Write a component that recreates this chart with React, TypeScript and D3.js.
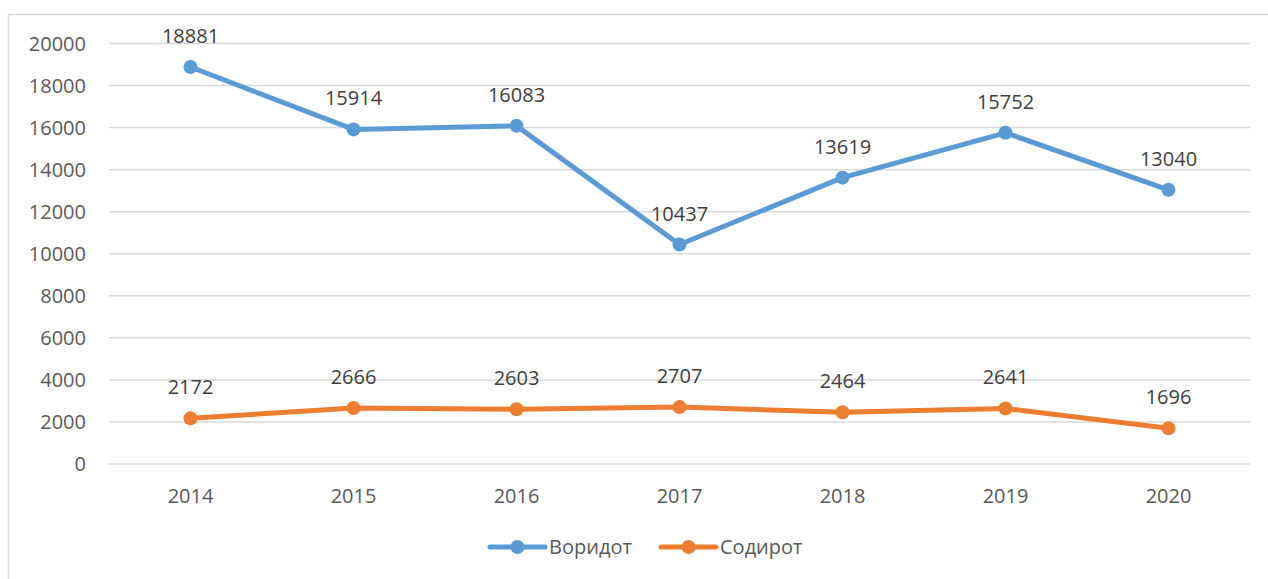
import React from "react";
import * as d3 from "d3";

const years = ["2014", "2015", "2016", "2017", "2018", "2019", "2020"];
const voridot = [18881, 15914, 16083, 10437, 13619, 15752, 13040];
const sodirot = [2172, 2666, 2603, 2707, 2464, 2641, 1696];
const yTicks = [0, 2000, 4000, 6000, 8000, 10000, 12000, 14000, 16000, 18000, 20000];
const seriesNames = ["Воридот", "Содирот"];
const colors = ["#5B9BD5", "#ED7D31"];

export default function App() {
  const W = 1268, H = 579;
  const x = d3.scaleBand<string>().domain(years).range([109, 1250]);
  const y = d3.scaleLinear().domain([0, 20000]).range([464, 43.5]);
  const font = "'Open Sans', 'Noto Sans', sans-serif";
  const text = "#595959";
  const line = d3.line<number>().x((_, i) => x(years[i])! + x.bandwidth() / 2).y((d) => y(d));
  const series = [voridot, sodirot];
  const legendX = [490, 661];
  return (
    <svg width={W} height={H} style={{ position: "absolute", left: 0, top: 0 }} fontFamily={font}>
      <rect x={0} y={0} width={W} height={H} fill="#fff" />
      <rect x={8.5} y={14.5} width={W + 20} height={H + 20} fill="none" stroke="#D9D9D9" strokeWidth={1.5} />
      {yTicks.map((t) => (
        <g key={t}>
          <line x1={109} x2={1250} y1={y(t)} y2={y(t)} stroke="#D9D9D9" strokeWidth={1.5} />
          <text x={86} y={y(t)} dy="0.35em" textAnchor="end" fontSize={20} fill={text}>{t}</text>
        </g>
      ))}
      {years.map((yr) => (
        <text key={yr} x={x(yr)! + x.bandwidth() / 2} y={496} dy="0.35em" textAnchor="middle" fontSize={20} fill={text}>{yr}</text>
      ))}
      {series.map((s, si) => (
        <g key={si}>
          <path d={line(s)!} fill="none" stroke={colors[si]} strokeWidth={5} strokeLinejoin="round" strokeLinecap="round" />
          {s.map((v, i) => (
            <circle key={i} cx={x(years[i])! + x.bandwidth() / 2} cy={y(v)} r={7} fill={colors[si]} />
          ))}
          {s.map((v, i) => (
            <text key={"l" + i} x={x(years[i])! + x.bandwidth() / 2} y={y(v) - 31} dy="0.35em" textAnchor="middle" fontSize={20} fill="#404040">{v}</text>
          ))}
        </g>
      ))}
      {seriesNames.map((n, i) => (
        <g key={n}>
          <line x1={legendX[i]} x2={legendX[i] + 55} y1={547} y2={547} stroke={colors[i]} strokeWidth={5} strokeLinecap="round" />
          <circle cx={legendX[i] + 27.5} cy={547} r={7} fill={colors[i]} />
          <text x={legendX[i] + 59} y={547} dy="0.35em" fontSize={20} fill={text}>{n}</text>
        </g>
      ))}
    </svg>
  );
}
